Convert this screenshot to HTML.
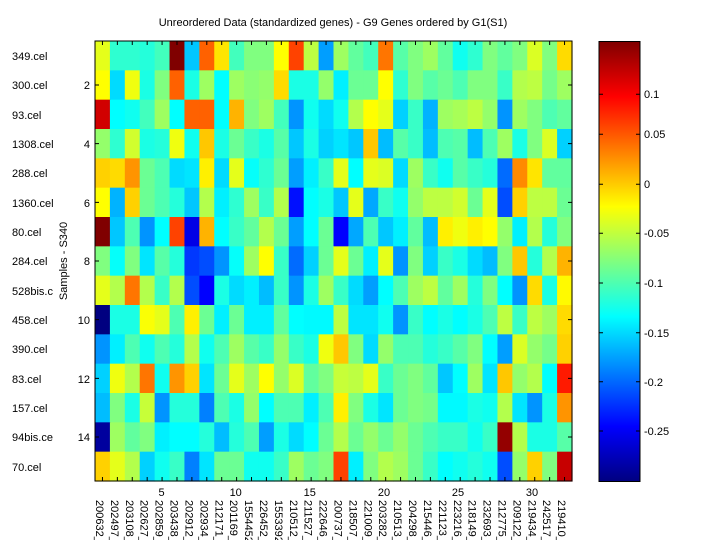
<!DOCTYPE html>
<html><head><meta charset="utf-8"><style>
html,body{margin:0;padding:0;background:#fff;}
svg{display:block;font-family:"Liberation Sans",Arial,sans-serif;}
</style></head><body>
<svg id="s" width="720" height="540" viewBox="0 0 720 540" xmlns="http://www.w3.org/2000/svg">
<rect width="720" height="540" fill="#fff"/>
<g id="cells"></g>
<defs><linearGradient id="cb" x1="0" y1="1" x2="0" y2="0" id2="">
<stop offset="0" stop-color="#000080"/><stop offset="0.125" stop-color="#0000ff"/>
<stop offset="0.375" stop-color="#00ffff"/><stop offset="0.625" stop-color="#ffff00"/>
<stop offset="0.875" stop-color="#ff0000"/><stop offset="1" stop-color="#800000"/>
</linearGradient></defs>
<rect x="599" y="41.5" width="41" height="440" fill="url(#cb)" stroke="#000" stroke-width="1"/>
<rect x="95" y="41" width="477" height="440" fill="none" stroke="#000" stroke-width="1"/>
<g id="ticks" stroke="#000" stroke-width="1"></g>
<text x="333" y="26" font-size="11" text-anchor="middle">Unreordered Data (standardized genes) - G9 Genes ordered by G1(S1)</text>
<text transform="translate(67,261) rotate(-90)" font-size="11" text-anchor="middle">Samples - S340</text>
<g font-size="11">
<text x="12" y="60">349.cel</text><text x="12" y="89">300.cel</text><text x="12" y="119">93.cel</text>
<text x="12" y="148">1308.cel</text><text x="12" y="177">288.cel</text><text x="12" y="207">1360.cel</text>
<text x="12" y="236">80.cel</text><text x="12" y="265">284.cel</text><text x="12" y="295">528bis.c</text>
<text x="12" y="324">458.cel</text><text x="12" y="353">390.cel</text><text x="12" y="383">83.cel</text>
<text x="12" y="412">157.cel</text><text x="12" y="441">94bis.ce</text><text x="12" y="471">70.cel</text>
</g>
<g font-size="11" text-anchor="end">
<text x="90" y="89">2</text><text x="90" y="148">4</text><text x="90" y="207">6</text><text x="90" y="265">8</text>
<text x="90" y="324">10</text><text x="90" y="383">12</text><text x="90" y="441">14</text>
</g>
<g font-size="11" text-anchor="middle">
<text x="161.5" y="496">5</text><text x="235.7" y="496">10</text><text x="309.8" y="496">15</text>
<text x="384" y="496">20</text><text x="458" y="496">25</text><text x="532" y="496">30</text>
</g>
<g font-size="11">
<text x="644" y="98">0.1</text><text x="644" y="138">0.05</text><text x="644" y="188">0</text>
<text x="644" y="237">-0.05</text><text x="644" y="287">-0.1</text><text x="644" y="337">-0.15</text>
<text x="644" y="386">-0.2</text><text x="644" y="435">-0.25</text>
</g>
<g id="xl" font-size="11"></g>
</svg>
<script>
var V=[
[.6,.42,.42,.41,.44,1,.32,.78,.65,.44,.5,.5,.625,.81,.56,.28,.53,.47,.44,.76,.46,.5,.53,.47,.39,.42,.5,.47,.5,.59,.5,.66],
[.625,.34,.61,.4,.5,.78,.4,.53,.375,.53,.51,.52,.66,.4,.4,.52,.36,.48,.48,.625,.42,.5,.46,.48,.45,.5,.5,.43,.55,.56,.49,.53],
[.92,.375,.39,.44,.53,.375,.78,.78,.375,.7,.5,.53,.44,.27,.39,.34,.39,.55,.625,.6,.33,.43,.3,.53,.54,.56,.52,.27,.53,.5,.45,.47],
[.52,.42,.58,.4,.41,.61,.39,.68,.4,.48,.43,.4,.46,.32,.4,.33,.35,.32,.68,.31,.46,.43,.31,.45,.46,.31,.45,.53,.4,.5,.59,.33],
[.67,.66,.73,.48,.45,.34,.35,.64,.34,.6,.38,.42,.48,.28,.36,.43,.6,.375,.6,.59,.34,.53,.43,.39,.46,.43,.41,.23,.74,.65,.47,.47],
[.625,.3,.67,.48,.45,.41,.32,.55,.36,.42,.53,.43,.55,.14,.375,.4,.32,.6,.29,.43,.39,.52,.56,.56,.58,.48,.6,.2,.67,.56,.56,.48],
[1,.32,.45,.27,.375,.81,.1,.7,.375,.43,.47,.55,.48,.28,.375,.48,.125,.29,.45,.32,.36,.47,.31,.64,.61,.64,.625,.52,.36,.55,.41,.5],
[.5,.38,.5,.35,.46,.41,.18,.2,.27,.38,.53,.625,.43,.23,.33,.48,.6,.48,.36,.6,.27,.5,.33,.43,.4,.34,.31,.5,.68,.41,.55,.7],
[.6,.55,.76,.55,.43,.55,.2,.125,.4,.34,.36,.31,.43,.27,.4,.53,.43,.34,.28,.375,.45,.53,.56,.47,.53,.41,.5,.375,.27,.66,.4,.63],
[0,.4,.4,.62,.6,.45,.64,.48,.36,.48,.36,.36,.47,.375,.37,.37,.56,.35,.35,.39,.27,.43,.375,.4,.375,.4,.45,.56,.43,.56,.53,.66],
[.27,.36,.45,.39,.45,.41,.55,.39,.45,.53,.46,.43,.52,.43,.4,.61,.68,.5,.34,.52,.45,.45,.41,.43,.46,.5,.375,.28,.59,.52,.49,.67],
[.33,.61,.55,.76,.39,.73,.67,.35,.48,.6,.53,.625,.52,.59,.47,.5,.57,.56,.6,.43,.48,.5,.47,.32,.375,.53,.35,.68,.52,.55,.375,.85],
[.31,.5,.4,.57,.27,.41,.41,.25,.45,.4,.52,.375,.45,.45,.36,.45,.64,.5,.4,.35,.48,.5,.49,.37,.37,.4,.39,.55,.35,.27,.4,.73],
[.03,.53,.47,.5,.36,.375,.375,.41,.31,.41,.45,.28,.4,.34,.375,.48,.55,.48,.52,.48,.52,.48,.45,.43,.43,.39,.43,.98,.55,.4,.4,.46],
[.67,.6,.55,.33,.39,.43,.25,.35,.48,.48,.39,.39,.43,.53,.48,.5,.81,.36,.5,.55,.53,.48,.43,.375,.39,.41,.39,.2,.52,.67,.5,.93]];
function c(x){return Math.round(255*Math.max(0,Math.min(1,x)));}
function jet(v){return "rgb("+c(1.5-Math.abs(4*v-3))+","+c(1.5-Math.abs(4*v-2))+","+c(1.5-Math.abs(4*v-1))+")";}
var NS="http://www.w3.org/2000/svg",g=document.getElementById("cells"),cw=477/32,rh=440/15;
for(var r=0;r<15;r++)for(var k=0;k<32;k++){var e=document.createElementNS(NS,"rect");
e.setAttribute("x",95+k*cw);e.setAttribute("y",41+r*rh);e.setAttribute("width",cw+0.6);e.setAttribute("height",rh+0.6);
e.setAttribute("fill",jet(V[r][k]));g.appendChild(e);}
var t=document.getElementById("ticks"),d="";
for(var k=0;k<32;k++){var x=95+(k+0.5)*cw;d+="M"+x+" 481v-4M"+x+" 41v4";}
for(var r=1;r<15;r+=2){var y=41+(r+0.5)*rh;d+="M95 "+y+"h4M572 "+y+"h-4";}
[94.3,134.3,184.3,233.3,283,332.7,381.7,431].forEach(function(y){d+="M599 "+y+"h4M640 "+y+"h-4";});
var p=document.createElementNS(NS,"path");p.setAttribute("d",d);t.appendChild(p);
</script>
<svg width="0" height="0"></svg>
<div style="position:absolute;left:0;top:0;width:720px;height:540px;pointer-events:none">
<svg width="720" height="540" style="position:absolute;left:0;top:0" font-family="Liberation Sans, Arial, sans-serif" font-size="11">
<g>
<text transform="translate(96,500) rotate(90)">200632_</text>
<text transform="translate(110.9,500) rotate(90)">202497_</text>
<text transform="translate(125.8,500) rotate(90)">203108_</text>
<text transform="translate(140.7,500) rotate(90)">202627_</text>
<text transform="translate(155.6,500) rotate(90)">202859_</text>
<text transform="translate(170.5,500) rotate(90)">203438_</text>
<text transform="translate(185.4,500) rotate(90)">202912_</text>
<text transform="translate(200.3,500) rotate(90)">202934_</text>
<text transform="translate(215.3,500) rotate(90)">212171_</text>
<text transform="translate(230.2,500) rotate(90)">201169_</text>
<text transform="translate(245.1,500) rotate(90)">1554452</text>
<text transform="translate(260,500) rotate(90)">226452_</text>
<text transform="translate(274.9,500) rotate(90)">1553392</text>
<text transform="translate(289.8,500) rotate(90)">210512_</text>
<text transform="translate(304.7,500) rotate(90)">211527_</text>
<text transform="translate(319.6,500) rotate(90)">222646_</text>
<text transform="translate(334.5,500) rotate(90)">200737_</text>
<text transform="translate(349.4,500) rotate(90)">218507_</text>
<text transform="translate(364.3,500) rotate(90)">221009_</text>
<text transform="translate(379.2,500) rotate(90)">203282_</text>
<text transform="translate(394.1,500) rotate(90)">210513_</text>
<text transform="translate(409,500) rotate(90)">204298_</text>
<text transform="translate(424,500) rotate(90)">215446_</text>
<text transform="translate(438.9,500) rotate(90)">221123_</text>
<text transform="translate(453.8,500) rotate(90)">223216_</text>
<text transform="translate(468.7,500) rotate(90)">218149_</text>
<text transform="translate(483.6,500) rotate(90)">232693_</text>
<text transform="translate(498.5,500) rotate(90)">212775_</text>
<text transform="translate(513.4,500) rotate(90)">209122_</text>
<text transform="translate(528.3,500) rotate(90)">219434_</text>
<text transform="translate(543.2,500) rotate(90)">242517_</text>
<text transform="translate(558.1,500) rotate(90)">219410_</text>
</g></svg></div>
</body></html>
